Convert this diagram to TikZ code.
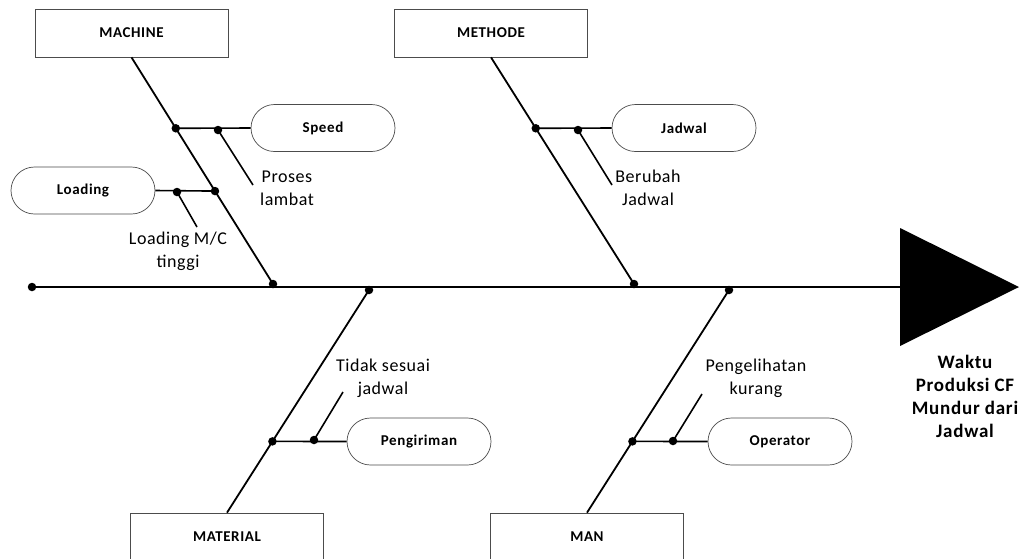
\documentclass[tikz,border=0pt]{standalone}
\usepackage{fontspec}
\setmainfont{Carlito}
\newfontfamily\causefont{Carlito}[LetterSpace=3]
\newfontfamily\labfont{Carlito}[LetterSpace=4]
\usetikzlibrary{calc}
\begin{document}
\begin{tikzpicture}[x=1pt,y=-1pt,
  catbox/.style={draw=black!70, line width=0.7pt, minimum width=193pt, minimum height=48pt, inner sep=0pt, font=\labfont\bfseries\fontsize{15}{18}\selectfont},
  pill/.style={draw=black!70, line width=0.7pt, rounded corners=23.5pt, minimum width=144pt, minimum height=47pt, inner sep=0pt, font=\labfont\bfseries\fontsize{15}{18}\selectfont},
  spine/.style={line width=1.5pt},
  bone/.style={line width=1.8pt},
  twig/.style={line width=1.6pt},
  cause/.style={font=\causefont\fontsize{18}{23}\selectfont, align=center, inner sep=0pt},
  bdot/.style={circle, fill=black, inner sep=0pt, minimum size=8.5pt}
]
\clip (0,0) rectangle (1029,558);
\fill[white] (0,0) rectangle (1029,558);

% head
\fill (900,228) -- (1019,287) -- (900,346) -- cycle;
\coordinate (tri) at (900,287);
\node[font=\labfont\bfseries\fontsize{19}{23}\selectfont, align=center, inner sep=0pt] (effect) at (965,396) {Waktu\\Produksi CF\\Mundur dari\\Jadwal};

% spine
\node[bdot] (dL) at (32,287) {};
\draw[spine] (dL.center) -- (tri);

% MACHINE
\node[catbox] (machine) at (131.5,33) {MACHINE};
\node[bdot] (mj) at (273,284) {};
\draw[bone] (machine.south) -- (mj.center);
\node[pill] (speed) at (323,128) {Speed};
\node[bdot] (s1) at ($(machine.south)!0.313!(mj.center)$) {};
\draw[twig] (s1.center) -- (speed.west);
\node[bdot] (s2) at (218,130) {};
\coordinate (s3) at (253,185);
\draw[twig] (s2.center) -- (s3);
\node[cause] (proses) at (287,188) {Proses\\lambat};

\node[pill] (loading) at (83,190.5) {Loading};
\node[bdot] (l1) at ($(machine.south)!0.59!(mj.center)$) {};
\draw[twig] (loading.east) -- (l1.center);
\node[bdot] (l2) at (177,192) {};
\coordinate (l3) at (197,227);
\draw[twig] (l2.center) -- (l3);
\node[cause] (lmc) at (178,251) {Loading M/C\\tinggi};

% METHODE
\node[catbox] (methode) at (491,33) {METHODE};
\node[bdot] (tj) at (634,284) {};
\draw[bone] (methode.south) -- (tj.center);
\node[pill] (jadwal) at (684,128) {Jadwal};
\node[bdot] (j1) at ($(methode.south)!0.313!(tj.center)$) {};
\draw[twig] (j1.center) -- (jadwal.west);
\node[bdot] (j2) at (578,130) {};
\coordinate (j3) at (612,185);
\draw[twig] (j2.center) -- (j3);
\node[cause] (berubah) at (648,188) {Berubah\\Jadwal};

% MATERIAL
\node[catbox] (material) at (227,537) {MATERIAL};
\node[bdot] (mt) at (369,290) {};
\draw[bone] (mt.center) -- (material.north);
\node[pill] (pengiriman) at (419,441.5) {Pengiriman};
\node[bdot] (p1) at ($(mt.center)!0.68!(material.north)$) {};
\draw[twig] (p1.center) -- (pengiriman.west);
\node[bdot] (p2) at (314,440) {};
\coordinate (p3) at (343,392);
\draw[twig] (p2.center) -- (p3);
\node[cause] (tidak) at (383,378) {Tidak sesuai\\jadwal};

% MAN
\node[catbox] (man) at (587,537) {MAN};
\node[bdot] (nt) at (729,290) {};
\draw[bone] (nt.center) -- (man.north);
\node[pill] (operator) at (780,441.5) {Operator};
\node[bdot] (o1) at ($(nt.center)!0.68!(man.north)$) {};
\draw[twig] (o1.center) -- (operator.west);
\node[bdot] (o2) at (673,441) {};
\coordinate (o3) at (702,394);
\draw[twig] (o2.center) -- (o3);
\node[cause] (pengelihatan) at (756,378) {Pengelihatan\\kurang};
\end{tikzpicture}
\end{document}
